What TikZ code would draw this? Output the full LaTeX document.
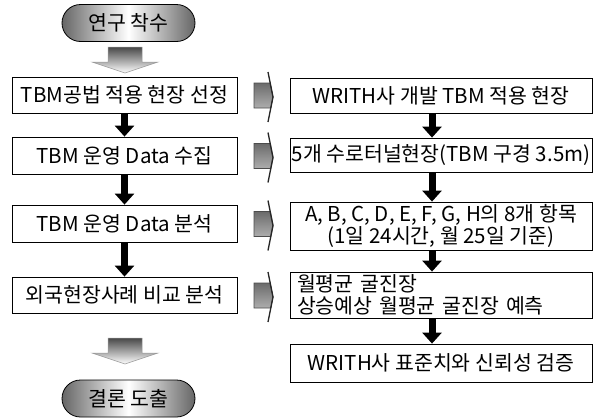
\documentclass[tikz,border=0pt]{standalone}
\usepackage{fontspec}
\setmainfont{Noto Sans CJK KR}
\usetikzlibrary{arrows.meta}
\begin{document}
\begin{tikzpicture}[x=1pt,y=-1pt,
  box/.style={draw=black, line width=0.8pt, inner sep=0pt, font=\fontsize{20.5}{22}\selectfont},
  lbox/.style={box, minimum width=225pt},
  rbox/.style={box, minimum width=302pt},
  pill/.style={draw=black, line width=0.8pt, rounded corners=18.5pt, minimum width=133pt, minimum height=37pt,
    left color=black!60, right color=black!60, middle color=white, inner sep=0pt, font=\fontsize{20.5}{22}\selectfont},
  blk/.style={line width=7pt, -{Triangle[width=19pt,length=11pt]}},
  bigarrow/.style={top color=black!72, bottom color=white, draw=black!40, line width=0.5pt},
  chev/.style={top color=black!58, bottom color=black!32, draw=black!70, line width=0.8pt},
  chevline/.style={draw=black!85, line width=1.3pt, line join=round}]
\useasboundingbox (0,0) rectangle (598,418);

% terminals
\node[pill] (start) at (128.5,23) {연구 착수};
\node[pill] (end) at (128.5,398.5) {결론 도출};

% left column
\node[lbox, minimum height=36pt] (B1) at (124.5,95) {TBM공법 적용 현장 선정};
\node[lbox, minimum height=37pt] (B2) at (124.5,155.5) {TBM 운영 Data 수집};
\node[lbox, minimum height=37pt] (B3) at (124.5,223.5) {TBM 운영 Data 분석};
\node[lbox, minimum height=36pt] (B4) at (124.5,295) {외국현장사례 비교 분석};

% right column
\node[rbox, minimum height=35pt] (R1) at (441,95.5) {WRITH사 개발 TBM 적용 현장};
\node[rbox, minimum height=34pt] (R2) at (441,155) {5개 수로터널현장(TBM 구경 3.5m)};
\node[rbox, minimum height=48pt, align=center] (R3) at (441,226) {A, B, C, D, E, F, G, H의 8개 항목\\(1일 24시간, 월 25일 기준)};
\node[rbox, minimum height=46pt, text width=288pt, align=left, inner xsep=7pt] (R4) at (441,295) {월평균 굴진장\\상승예상 월평균 굴진장 예측};
\node[rbox, minimum height=38pt] (R5) at (441,363) {WRITH사 표준치와 신뢰성 검증};

% black arrows
\draw[blk] (B1.south) -- (B2.north);
\draw[blk] (B2.south) -- (B3.north);
\draw[blk] (B3.south) -- (B4.north);
\draw[blk] ([xshift=-9pt]R1.south) -- ([xshift=-9pt]R2.north);
\draw[blk] ([xshift=-9pt]R2.south) -- ([xshift=-9pt]R3.north);
\draw[blk] ([xshift=-9pt]R3.south) -- ([xshift=-9pt]R4.north);
\draw[blk] ([xshift=-9pt]R4.south) -- ([xshift=-9pt]R5.north);

% wide grey arrows
\shade[bigarrow] (108,47) -- (142,47) -- (142,62) -- (158,62) -- (125,73) -- (92,62) -- (108,62) -- cycle;
\shade[bigarrow] (108,338) -- (142,338) -- (142,353) -- (158,353) -- (125,364) -- (92,353) -- (108,353) -- cycle;

% chevrons
\foreach \cy in {95,155.5,223.5,295}{
  \shade[chev] (254,\cy-12) -- (270.2,\cy-12) -- (273,\cy+2) -- (270.8,\cy+13) -- (254,\cy+13) -- cycle;
  \draw[chevline] (268,\cy-23) -- (273,\cy+2) -- (268,\cy+27);
}
\end{tikzpicture}
\end{document}
